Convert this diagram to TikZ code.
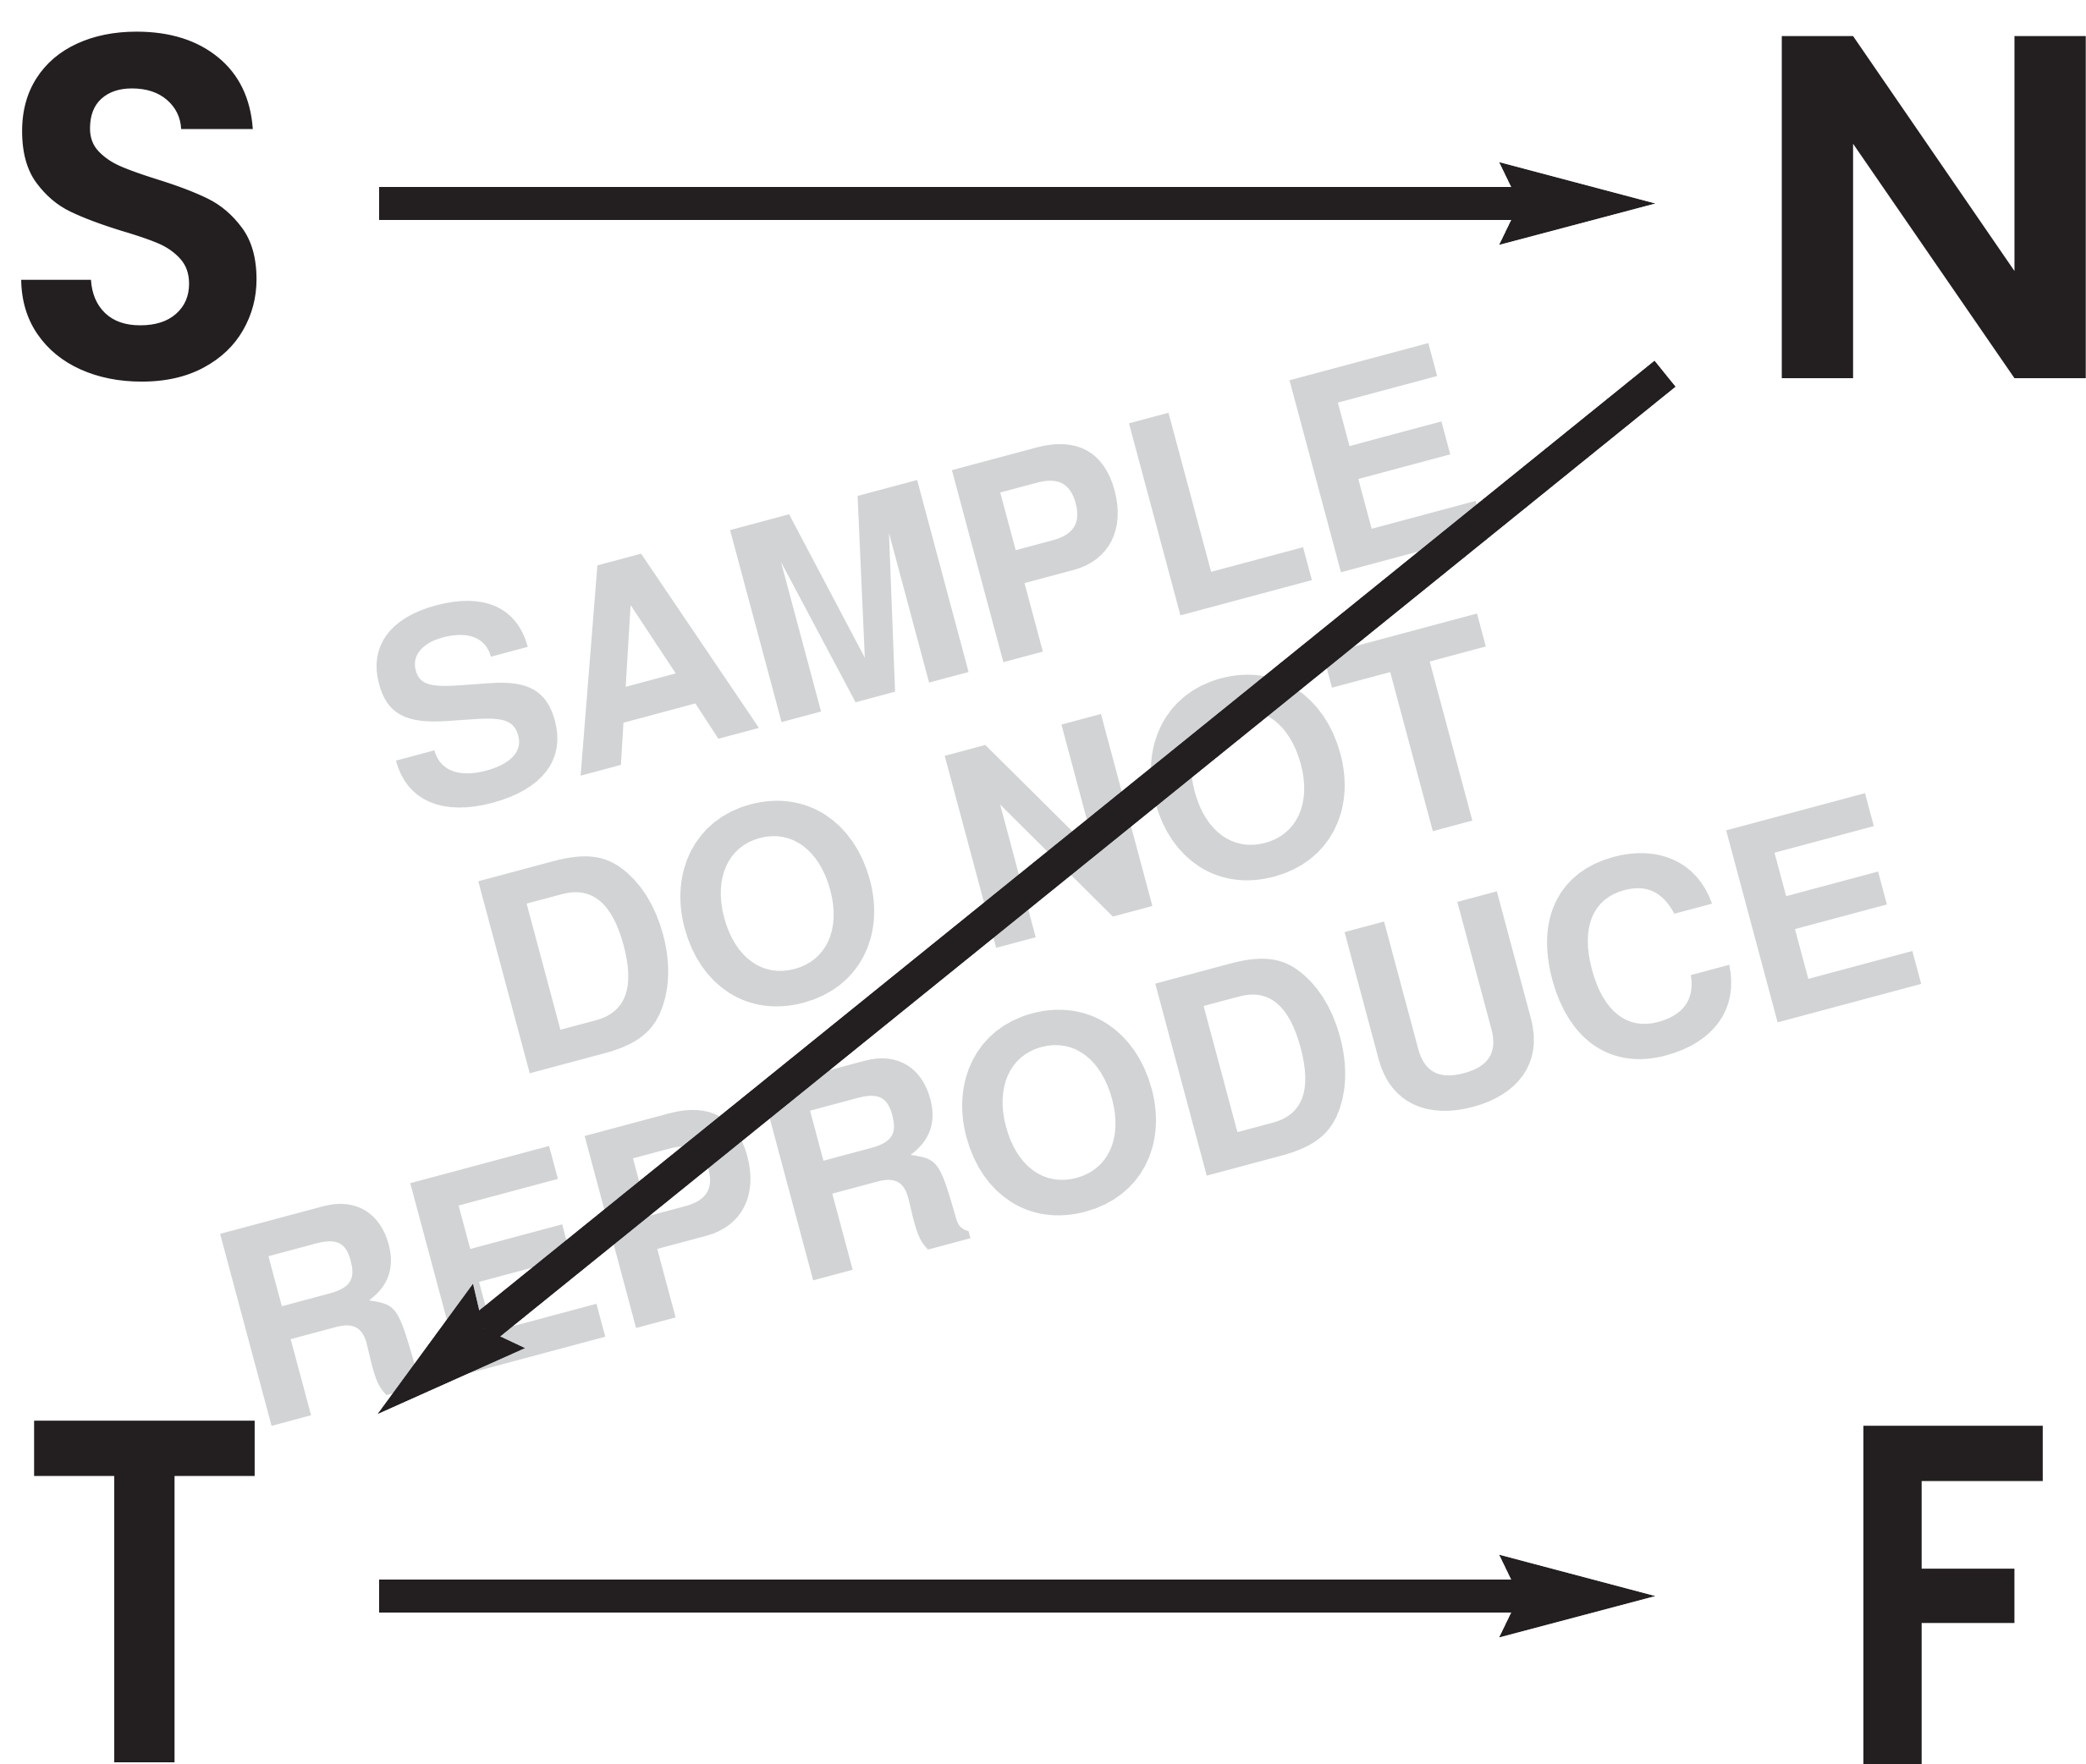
\documentclass[tikz,border=0pt]{standalone}
\usepackage{fontspec}
\setmainfont{Poppins}
\newfontfamily\bigfont{Poppins SemiBold}
\newfontfamily\wmfont{TeX Gyre Heros}
\usetikzlibrary{arrows.meta}
\definecolor{ink}{HTML}{231F20}
\definecolor{wmgray}{HTML}{D1D3D4}
\tikzset{
  letter/.style={inner sep=0pt, text=ink, text height=258pt, text depth=0pt,
    font=\fontsize{368}{368}\selectfont\bigfont},
  arr/.style={draw=ink, line width=25pt,
    -{Stealth[length=117pt,width=62pt,inset=15pt,line width=0pt]}},
  wmark/.style={inner sep=0pt, text=wmgray, align=center, rotate=15,
    font=\fontsize{205}{206}\selectfont\wmfont\bfseries}
}
\begin{document}
\begin{tikzpicture}[x=1pt,y=-1pt]
\useasboundingbox (0,0) rectangle (1568,1326);
\clip (0,0) rectangle (1568,1326);
\node[wmark] (wm) at (748,636) {SAMPLE\\DO NOT\\REPRODUCE};
\node[letter] (S) at (105,155.5) {\scalebox{0.95}[1]{S}};
\node[letter] (N) at (1454,155.5) {\scalebox{1.04}[1]{N}};
\node[letter] (T) at (109,1196) {\scalebox{0.88}[1]{T}};
\node[letter] (F) at (1462,1200) {\scalebox{0.85}[1]{F}};
\coordinate (d1) at (1251.5,281);
\coordinate (d2) at (284,1063);
\draw[arr, shorten <=180pt, shorten >=210pt] ([yshift=2.5pt]S.center) -- ([yshift=2.5pt]N.center);
\draw[arr, shorten <=176pt] ([yshift=-4pt]T.center) -- ([yshift=-4pt,xshift=-218pt]T.center -| F.center);
\draw[arr] (d1) -- (d2);
\end{tikzpicture}
\end{document}
